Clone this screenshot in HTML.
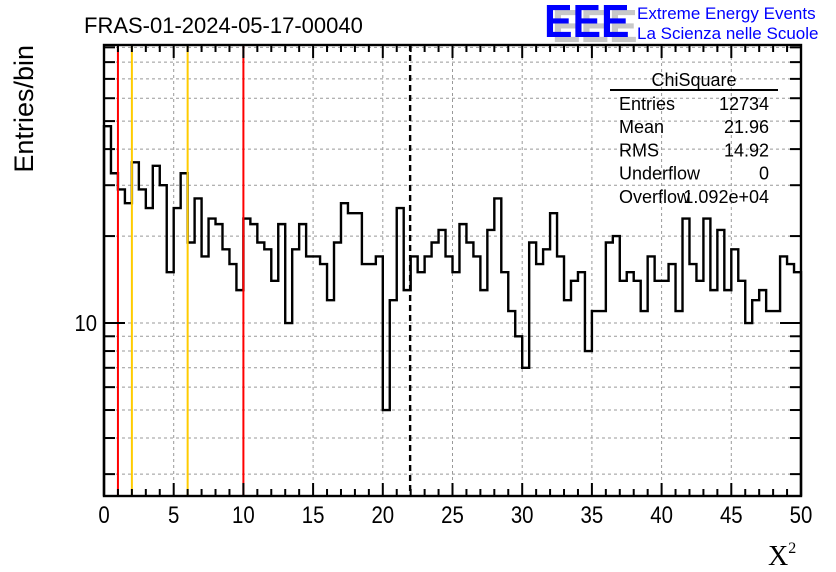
<!DOCTYPE html>
<html><head><meta charset="utf-8"><style>
html,body{margin:0;padding:0;background:#fff;}
svg{display:block;font-family:"Liberation Sans",sans-serif;}
</style></head><body>
<svg id="c" width="836" height="572" viewBox="0 0 836 572"></svg>
<script>
const counts = [48,33,29,26,36,29,25,35,30,15,25,33,19,27,17,23,22,18,16,13,23,22,19,18,14,
22,10,18,22,17,17,16,12,19,26,24,24,16,16,17,5,12,25,13,17,15,17,19,21,17,
15,22,19,17,13,21,27,15,11,9,7,19,16,18,24,17,12,14,15,8,11,11,19,20,14,
15,14,11,17,14,14,16,11,23,16,14,23,13,21,13,18,14,10,12,13,11,11,17,16,15];
const binWidth = [0.5];
const xTicks = [0,5,10,15,20,25,30,35,40,45,50];
const yMajor = [10];
const yMinor = [3,4,5,6,7,8,9,20,30,40,50,60,70,80,90];
const redLines = [1,10];
const orangeLines = [2,6];
const meanLine = [21.96];
const statsLabels = ["Entries","Mean","RMS","Underflow","Overflow"];
const statsValues = ["12734","21.96","14.92","0","1.092e+04"];

const L=104,R=801,T=45,B=496, XMIN=0,XMAX=50, YMIN=2.52,YMAX=91.7;
const sx=v=>L+(v-XMIN)/(XMAX-XMIN)*(R-L);
const sy=v=>B-(Math.log10(v)-Math.log10(YMIN))/(Math.log10(YMAX)-Math.log10(YMIN))*(B-T);
const svg=document.getElementById('c');
const NS='http://www.w3.org/2000/svg';
function mk(tag,attrs,parent){const e=document.createElementNS(NS,tag);for(const k in attrs)e.setAttribute(k,attrs[k]);(parent||svg).appendChild(e);return e;}

// grid
const grid=mk('g',{});


xTicks.forEach(t=>{if(t>XMIN&&t<XMAX)mk('line',{x1:sx(t),x2:sx(t),y1:T,y2:B,stroke:'#999','stroke-width':1,'stroke-dasharray':'3,3'},grid);});
yMajor.concat(yMinor).forEach(t=>{mk('line',{x1:L,x2:R,y1:sy(t),y2:sy(t),stroke:'#999','stroke-width':1,'stroke-dasharray':'3,3'},grid);});

// histogram
let d='M'+L+','+B;
counts.forEach((c,i)=>{const x0=sx(i*binWidth[0]),x1=sx((i+1)*binWidth[0]),y=sy(c);d+=' L'+x0+','+y+' L'+x1+','+y;});
d+=' L'+R+','+B;
const h=mk('path',{d:d,fill:'none',stroke:'#000','stroke-width':2.4});



// vertical lines
redLines.forEach(v=>{const l=mk('line',{x1:sx(v),x2:sx(v),y1:T,y2:B,stroke:'#f00','stroke-width':2});

});
orangeLines.forEach(v=>{const l=mk('line',{x1:sx(v),x2:sx(v),y1:T,y2:B,stroke:'#fc0','stroke-width':2});

});
meanLine.forEach(v=>{const l=mk('line',{x1:sx(v),x2:sx(v),y1:T,y2:B,stroke:'#000','stroke-width':2.4,'stroke-dasharray':'6,4'});

});

// frame
const fr=mk('rect',{x:L,y:T,width:R-L,height:B-T,fill:'none',stroke:'#000','stroke-width':2.4});



// x ticks
const xt=mk('g',{stroke:'#000','stroke-width':2});


for(let v=XMIN;v<=XMAX;v++){const len=(v%5===0)?13:7;const x=sx(v);
mk('line',{x1:x,x2:x,y1:B,y2:B-len},xt);mk('line',{x1:x,x2:x,y1:T,y2:T+len},xt);}
xTicks.forEach(t=>{const tx=mk('text',{x:sx(t),y:523,'text-anchor':'middle','font-size':24,fill:'#000',transform:'translate('+sx(t)+',0) scale(0.85,1) translate('+(-sx(t))+',0)'});tx.textContent=t;

});

// y ticks
const yt=mk('g',{stroke:'#000','stroke-width':2});


yMajor.forEach(t=>{const y=sy(t);mk('line',{x1:L,x2:L+21,y1:y,y2:y},yt);mk('line',{x1:R,x2:R-21,y1:y,y2:y},yt);});
yMinor.forEach(t=>{const y=sy(t);mk('line',{x1:L,x2:L+11,y1:y,y2:y},yt);mk('line',{x1:R,x2:R-11,y1:y,y2:y},yt);});
yMajor.forEach(t=>{const tx=mk('text',{x:97,y:sy(t)+8,'text-anchor':'end','font-size':23,fill:'#000',transform:'translate(97,0) scale(0.88,1) translate(-97,0)'});tx.textContent=t;

});

// stats box
const sb=mk('g',{});


const st=mk('text',{x:694,y:86,'text-anchor':'middle','font-size':18,fill:'#000'},sb);st.textContent='ChiSquare';
mk('line',{x1:610,x2:778,y1:90,y2:90,stroke:'#000','stroke-width':2},sb);
statsLabels.forEach((s,i)=>{const y=110+i*23.2;
const a=mk('text',{x:619,y:y,'font-size':18,fill:'#000'},sb);a.textContent=s;
const b=mk('text',{x:769,y:y,'text-anchor':'end','font-size':18,fill:'#000'},sb);b.textContent=statsValues[i];});

// titles
const ti=mk('text',{x:84,y:33,'font-size':22,fill:'#000'});ti.textContent='FRAS-01-2024-05-17-00040';


const yl=mk('text',{x:0,y:0,'font-size':27,fill:'#000','text-anchor':'end',transform:'translate(33,45) rotate(-90)'});yl.textContent='Entries/bin';


const xl=mk('text',{x:768,y:565,'font-size':28,fill:'#000','font-family':'Liberation Serif, serif'});xl.textContent='X';
const sup=mk('tspan',{dy:-12,'font-size':16},xl);sup.textContent='2';



// logo
const lg=mk('g',{});


const l1=mk('text',{x:552,y:42,'font-size':46,'font-weight':'bold',fill:'#c8c8c8',transform:'translate(552,0) scale(0.93,1) translate(-552,0)'},lg);l1.textContent='EEE';
const l2=mk('text',{x:544,y:37,'font-size':46,'font-weight':'bold',fill:'#0000ff',transform:'translate(544,0) scale(0.93,1) translate(-544,0)'},lg);l2.textContent='EEE';
const l3=mk('text',{x:637,y:19,'font-size':17,fill:'#0000ff'},lg);l3.textContent='Extreme Energy Events';
const l4=mk('text',{x:637,y:39,'font-size':17,fill:'#0000ff'},lg);l4.textContent='La Scienza nelle Scuole';
</script>
</body></html>
